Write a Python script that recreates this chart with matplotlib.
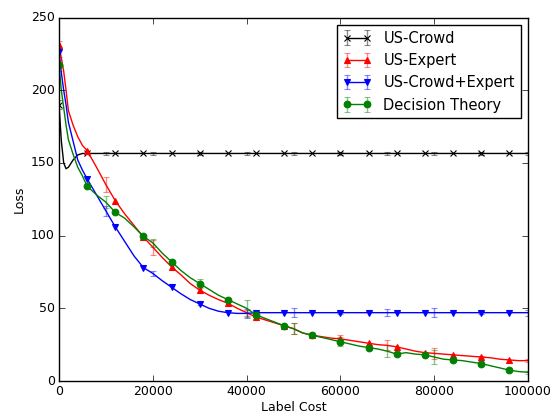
import numpy as np
import matplotlib
matplotlib.use("Agg")
import matplotlib.pyplot as plt

# label cost grid (dense at the start)
cost = np.array([0, 500, 1000, 1500, 2000, 3000, 4000, 5000]
                + list(range(6000, 100001, 2000)))

crowd = [190, 165, 150, 146, 147, 152, 155.5, 156.5,
         156.5, 156.5, 156.5, 156.5, 156.5, 156.5, 156.5, 156.5,
         156.5, 156.5, 156.5, 156.5, 156.5, 156.5, 156.5, 156.5,
         156.5, 156.5, 156.5, 156.5, 156.5, 156.5, 156.5, 156.5,
         156.5, 156.5, 156.5, 156.5, 156.5, 156.5, 156.5, 156.5,
         156.5, 156.5, 156.5, 156.5, 156.5, 156.5, 156.5, 156.5,
         156.5, 156.5, 156.5, 156.5, 156.5, 156.5, 156.5, 156.5]

expert = [231, 222, 213, 200, 186, 176, 168, 162,
          158.5, 147, 135, 124, 115, 107, 99, 92,
          85, 78.5, 73, 67, 62.5, 59, 56, 53.5,
          50, 47, 44, 42, 40, 38, 36, 33,
          31.5, 30.5, 29.5, 29, 28, 27, 26, 25,
          24.5, 23.5, 22, 20.5, 19.5, 19, 18.5, 18,
          17.5, 17, 16.5, 16, 15, 14.5, 14, 14]

crowd_expert = [226, 212, 200, 190, 178, 165, 152, 145,
                139, 128, 117, 106, 96, 86, 78, 74,
                69, 64.5, 60, 56, 53, 50, 48, 47,
                46.5, 46.5, 47, 47, 47, 47, 47, 47,
                47, 47, 47, 47, 47, 47, 47, 47,
                47, 47, 47, 47, 47, 47, 47, 47,
                47, 47, 47, 47, 47, 47, 47, 47]

decision = [217, 200, 188, 176, 166, 156, 147, 141,
            134, 128, 123, 116, 112, 106, 99.5, 95,
            88, 82, 76, 71, 67, 63, 59, 56,
            53, 50, 45.5, 43, 40.5, 38, 36, 33,
            31.5, 30, 28.5, 27, 25.5, 24, 23, 22,
            20.5, 18.5, 19.5, 18.5, 18, 16.5, 15, 14.5,
            14, 13, 12, 10.5, 9, 7.5, 6.5, 6]

# error bars at 0, 10000, ..., 100000
err_crowd = [3, 1, 1, 1, 1, 1, 1, 1, 1, 1, 1]
err_expert = [3, 5, 5, 2, 2, 4, 2.5, 3.5, 4, 1, 1]
err_crowd_expert = [3, 3.5, 2, 1, 3, 3, 1, 2.5, 3, 1, 2]
err_decision = [4, 4, 3, 3, 6, 4, 3, 4, 5, 2, 1]

plt.style.use("classic")
plt.rcParams["font.family"] = ["DejaVu Sans"]

mark_mask = cost % 6000 == 0
err_mask = cost % 10000 == 0


def full_err(err):
    e = np.zeros(len(cost))
    e[err_mask] = err
    return e


fig = plt.figure(figsize=(5.54, 4.17), dpi=100, facecolor="white")
ax = fig.add_axes([0.1065, 0.0863, 0.8466, 0.8717])

series = [
    ("US-Crowd", crowd, err_crowd, "k", "x"),
    ("US-Expert", expert, err_expert, "r", "^"),
    ("US-Crowd+Expert", crowd_expert, err_crowd_expert, "b", "v"),
    ("Decision Theory", decision, err_decision, "g", "o"),
]

for name, vals, err, col, mk in series:
    ecol = matplotlib.colors.to_rgba(col, 0.45)
    ax.errorbar(cost, vals, yerr=full_err(err), color=col, ecolor=ecol,
                marker=mk, markevery=mark_mask, errorevery=err_mask,
                markersize=4.8, markeredgecolor=col, mew=0.8, lw=1,
                capsize=2.5, label=name)

ax.set_xlim(0, 100000)
ax.set_ylim(0, 250)
ax.set_xticks([0, 20000, 40000, 60000, 80000, 100000])
ax.set_yticks([0, 50, 100, 150, 200, 250])
ax.tick_params(labelsize=9, pad=3)
ax.set_xlabel("Label Cost", fontsize=9, labelpad=2)
ax.set_ylabel("Loss", fontsize=9, labelpad=4)
ax.legend(loc="upper right", fontsize=10.5, numpoints=2)

fig.savefig("out.png", dpi=100, facecolor="white")
